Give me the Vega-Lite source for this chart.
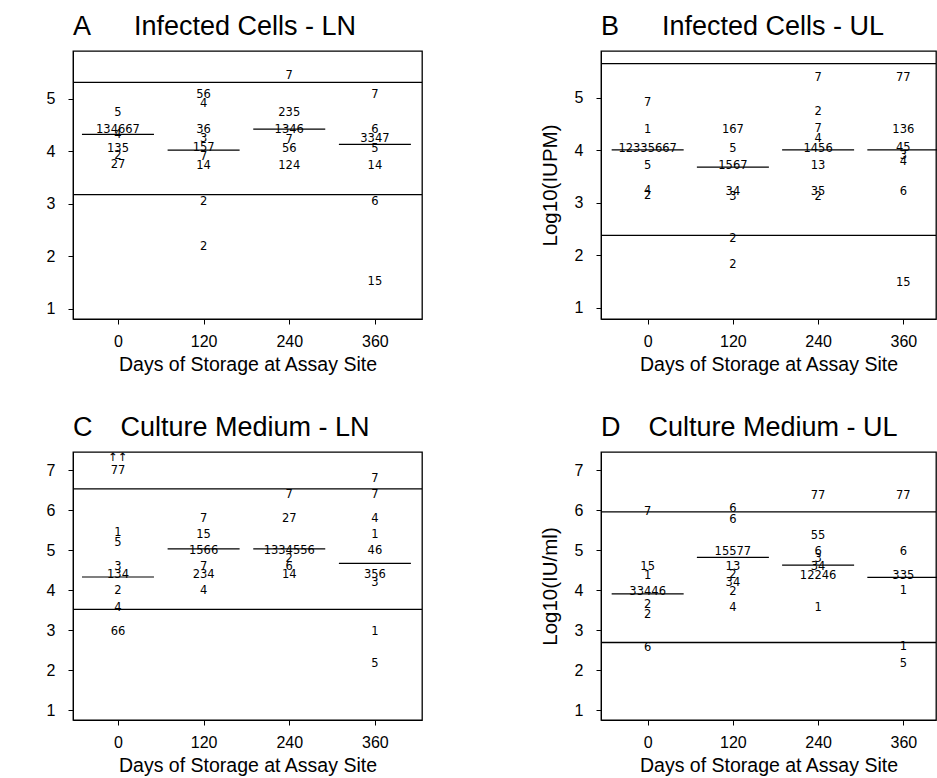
{
"$schema":"https://vega.github.io/schema/vega-lite/v6.json",
"padding":{"left":45,"top":12,"right":0,"bottom":0},
"background":"white",
"datasets":{
"pts":[
{"p":"A","day":0,"v":4.73,"label":"5"},{"p":"A","day":0,"v":4.40,"label":"134667"},{"p":"A","day":0,"v":4.30,"label":"4"},{"p":"A","day":0,"v":4.05,"label":"135"},{"p":"A","day":0,"v":3.90,"label":"2"},{"p":"A","day":0,"v":3.73,"label":"27"},
{"p":"A","day":120,"v":5.08,"label":"56"},{"p":"A","day":120,"v":4.90,"label":"4"},{"p":"A","day":120,"v":4.40,"label":"36"},{"p":"A","day":120,"v":4.24,"label":"3"},{"p":"A","day":120,"v":4.06,"label":"157"},{"p":"A","day":120,"v":3.89,"label":"7"},{"p":"A","day":120,"v":3.72,"label":"14"},{"p":"A","day":120,"v":3.03,"label":"2"},{"p":"A","day":120,"v":2.18,"label":"2"},
{"p":"A","day":240,"v":5.43,"label":"7"},{"p":"A","day":240,"v":4.73,"label":"235"},{"p":"A","day":240,"v":4.40,"label":"1346"},{"p":"A","day":240,"v":4.22,"label":"7"},{"p":"A","day":240,"v":4.05,"label":"56"},{"p":"A","day":240,"v":3.72,"label":"124"},
{"p":"A","day":360,"v":5.08,"label":"7"},{"p":"A","day":360,"v":4.40,"label":"6"},{"p":"A","day":360,"v":4.23,"label":"3347"},{"p":"A","day":360,"v":4.05,"label":"5"},{"p":"A","day":360,"v":3.72,"label":"14"},{"p":"A","day":360,"v":3.03,"label":"6"},{"p":"A","day":360,"v":1.50,"label":"15"},
{"p":"B","day":0,"v":4.90,"label":"7"},{"p":"B","day":0,"v":4.38,"label":"1"},{"p":"B","day":0,"v":4.03,"label":"12335667"},{"p":"B","day":0,"v":3.71,"label":"5"},{"p":"B","day":0,"v":3.22,"label":"4"},{"p":"B","day":0,"v":3.14,"label":"2"},
{"p":"B","day":120,"v":4.38,"label":"167"},{"p":"B","day":120,"v":4.03,"label":"5"},{"p":"B","day":120,"v":3.71,"label":"1567"},{"p":"B","day":120,"v":3.21,"label":"34"},{"p":"B","day":120,"v":3.11,"label":"3"},{"p":"B","day":120,"v":2.32,"label":"2"},{"p":"B","day":120,"v":1.81,"label":"2"},
{"p":"B","day":240,"v":5.38,"label":"7"},{"p":"B","day":240,"v":4.73,"label":"2"},{"p":"B","day":240,"v":4.41,"label":"7"},{"p":"B","day":240,"v":4.22,"label":"4"},{"p":"B","day":240,"v":4.03,"label":"1456"},{"p":"B","day":240,"v":3.71,"label":"13"},{"p":"B","day":240,"v":3.21,"label":"35"},{"p":"B","day":240,"v":3.11,"label":"2"},
{"p":"B","day":360,"v":5.38,"label":"77"},{"p":"B","day":360,"v":4.38,"label":"136"},{"p":"B","day":360,"v":4.04,"label":"45"},{"p":"B","day":360,"v":3.89,"label":"3"},{"p":"B","day":360,"v":3.78,"label":"4"},{"p":"B","day":360,"v":3.21,"label":"6"},{"p":"B","day":360,"v":1.48,"label":"15"},
{"p":"C","day":0,"v":7.30,"label":"↑↑"},{"p":"C","day":0,"v":6.97,"label":"77"},{"p":"C","day":0,"v":5.42,"label":"1"},{"p":"C","day":0,"v":5.17,"label":"5"},{"p":"C","day":0,"v":4.58,"label":"3"},{"p":"C","day":0,"v":4.38,"label":"134"},{"p":"C","day":0,"v":3.98,"label":"2"},{"p":"C","day":0,"v":3.56,"label":"4"},{"p":"C","day":0,"v":2.96,"label":"66"},
{"p":"C","day":120,"v":5.78,"label":"7"},{"p":"C","day":120,"v":5.38,"label":"15"},{"p":"C","day":120,"v":4.98,"label":"1566"},{"p":"C","day":120,"v":4.58,"label":"7"},{"p":"C","day":120,"v":4.38,"label":"234"},{"p":"C","day":120,"v":3.98,"label":"4"},
{"p":"C","day":240,"v":6.38,"label":"7"},{"p":"C","day":240,"v":5.78,"label":"27"},{"p":"C","day":240,"v":4.98,"label":"1334556"},{"p":"C","day":240,"v":4.79,"label":"2"},{"p":"C","day":240,"v":4.58,"label":"6"},{"p":"C","day":240,"v":4.38,"label":"14"},
{"p":"C","day":360,"v":6.78,"label":"7"},{"p":"C","day":360,"v":6.38,"label":"7"},{"p":"C","day":360,"v":5.78,"label":"4"},{"p":"C","day":360,"v":5.38,"label":"1"},{"p":"C","day":360,"v":4.98,"label":"46"},{"p":"C","day":360,"v":4.38,"label":"356"},{"p":"C","day":360,"v":4.17,"label":"3"},{"p":"C","day":360,"v":2.96,"label":"1"},{"p":"C","day":360,"v":2.17,"label":"5"},
{"p":"D","day":0,"v":5.96,"label":"7"},{"p":"D","day":0,"v":4.57,"label":"15"},{"p":"D","day":0,"v":4.36,"label":"1"},{"p":"D","day":0,"v":3.95,"label":"33446"},{"p":"D","day":0,"v":3.62,"label":"2"},{"p":"D","day":0,"v":3.37,"label":"2"},{"p":"D","day":0,"v":2.55,"label":"6"},
{"p":"D","day":120,"v":6.03,"label":"6"},{"p":"D","day":120,"v":5.76,"label":"6"},{"p":"D","day":120,"v":4.96,"label":"15577"},{"p":"D","day":120,"v":4.57,"label":"13"},{"p":"D","day":120,"v":4.38,"label":"2"},{"p":"D","day":120,"v":4.17,"label":"34"},{"p":"D","day":120,"v":3.95,"label":"2"},{"p":"D","day":120,"v":3.55,"label":"4"},
{"p":"D","day":240,"v":6.36,"label":"77"},{"p":"D","day":240,"v":5.36,"label":"55"},{"p":"D","day":240,"v":4.96,"label":"6"},{"p":"D","day":240,"v":4.78,"label":"3"},{"p":"D","day":240,"v":4.57,"label":"34"},{"p":"D","day":240,"v":4.35,"label":"12246"},{"p":"D","day":240,"v":3.55,"label":"1"},
{"p":"D","day":360,"v":6.36,"label":"77"},{"p":"D","day":360,"v":4.96,"label":"6"},{"p":"D","day":360,"v":4.35,"label":"335"},{"p":"D","day":360,"v":3.97,"label":"1"},{"p":"D","day":360,"v":2.58,"label":"1"},{"p":"D","day":360,"v":2.16,"label":"5"}
],
"med":[
{"p":"A","day":0,"v":4.32},{"p":"A","day":120,"v":4.02},{"p":"A","day":240,"v":4.42},{"p":"A","day":360,"v":4.13},
{"p":"B","day":0,"v":4.01},{"p":"B","day":120,"v":3.68},{"p":"B","day":240,"v":4.01},{"p":"B","day":360,"v":4.01},
{"p":"C","day":0,"v":4.33},{"p":"C","day":120,"v":5.03},{"p":"C","day":240,"v":5.03},{"p":"C","day":360,"v":4.67},
{"p":"D","day":0,"v":3.91},{"p":"D","day":120,"v":4.82},{"p":"D","day":240,"v":4.63},{"p":"D","day":360,"v":4.32}
],
"ref":[
{"p":"A","v":5.31},{"p":"A","v":3.17},
{"p":"B","v":5.65},{"p":"B","v":2.38},
{"p":"C","v":6.53},{"p":"C","v":3.52},
{"p":"D","v":5.96},{"p":"D","v":2.69}
]
},
"config":{
"font":"Liberation Sans",
"view":{"stroke":"black","strokeWidth":1.3},
"title":{"fontSize":27,"fontWeight":"normal","anchor":"start","frame":"group","offset":10,"color":"black","font":"Liberation Sans"},
"axis":{"grid":false,"domainColor":"black","tickColor":"black","labelColor":"black","titleColor":"black","titleFontWeight":"normal","labelFont":"Liberation Sans","titleFont":"Liberation Sans","tickSize":5,"labelFontSize":16},
"axisX":{"labelPadding":9,"titleFontSize":19.5,"titlePadding":6},
"axisY":{"labelPadding":13,"titleFontSize":20.5,"titlePadding":14}
},
"spacing":38,
"vconcat":[
{"spacing":115,"hconcat":[
{"title":{"text":"A\u00a0\u00a0\u00a0\u00a0\u00a0\u2009Infected Cells - LN"},"width":349,"height":268,
"layer":[
{"data":{"name":"ref"},"transform":[{"filter":"datum.p==='A'"}],"mark":{"type":"rule","color":"black","strokeWidth":1.3},
"encoding":{"y":{"field":"v","type":"quantitative","scale":{"domain":[0.8,5.91],"nice":false,"zero":false},"axis":{"values":[1,2,3,4,5],"title":null}}}},
{"data":{"name":"med"},"transform":[{"filter":"datum.p==='A'"}],"mark":{"type":"tick","orient":"horizontal","size":72,"thickness":1.2,"color":"black","opacity":1},
"encoding":{"x":{"field":"day","type":"quantitative","scale":{"domain":[-63,426],"nice":false,"zero":false},"axis":{"values":[0,120,240,360],"title":"Days of Storage at Assay Site"}},"y":{"field":"v","type":"quantitative"}}},
{"data":{"name":"pts"},"transform":[{"filter":"datum.p==='A'"}],"mark":{"type":"text","font":"DejaVu Sans","fontSize":11.5,"color":"black","align":"center","baseline":"middle"},
"encoding":{"x":{"field":"day","type":"quantitative"},"y":{"field":"v","type":"quantitative"},"text":{"field":"label"}}}
]},
{"title":{"text":"B\u00a0\u00a0\u00a0\u00a0\u00a0\u2009Infected Cells - UL"},"width":335,"height":268,
"layer":[
{"data":{"name":"ref"},"transform":[{"filter":"datum.p==='B'"}],"mark":{"type":"rule","color":"black","strokeWidth":1.3},
"encoding":{"y":{"field":"v","type":"quantitative","scale":{"domain":[0.79,5.89],"nice":false,"zero":false},"axis":{"values":[1,2,3,4,5],"title":"Log10(IUPM)"}}}},
{"data":{"name":"med"},"transform":[{"filter":"datum.p==='B'"}],"mark":{"type":"tick","orient":"horizontal","size":72,"thickness":1.2,"color":"black","opacity":1},
"encoding":{"x":{"field":"day","type":"quantitative","scale":{"domain":[-65.7,406],"nice":false,"zero":false},"axis":{"values":[0,120,240,360],"title":"Days of Storage at Assay Site"}},"y":{"field":"v","type":"quantitative"}}},
{"data":{"name":"pts"},"transform":[{"filter":"datum.p==='B'"}],"mark":{"type":"text","font":"DejaVu Sans","fontSize":11.5,"color":"black","align":"center","baseline":"middle"},
"encoding":{"x":{"field":"day","type":"quantitative"},"y":{"field":"v","type":"quantitative"},"text":{"field":"label"}}}
]}
]},
{"spacing":115,"hconcat":[
{"title":{"text":"C\u00a0\u00a0\u00a0\u2009Culture Medium - LN"},"width":349,"height":268,
"layer":[
{"data":{"name":"ref"},"transform":[{"filter":"datum.p==='C'"}],"mark":{"type":"rule","color":"black","strokeWidth":1.3},
"encoding":{"y":{"field":"v","type":"quantitative","scale":{"domain":[0.76,7.45],"nice":false,"zero":false},"axis":{"values":[1,2,3,4,5,6,7],"title":null}}}},
{"data":{"name":"med"},"transform":[{"filter":"datum.p==='C'"}],"mark":{"type":"tick","orient":"horizontal","size":72,"thickness":1.2,"color":"black","opacity":1},
"encoding":{"x":{"field":"day","type":"quantitative","scale":{"domain":[-63,426],"nice":false,"zero":false},"axis":{"values":[0,120,240,360],"title":"Days of Storage at Assay Site"}},"y":{"field":"v","type":"quantitative"}}},
{"data":{"name":"pts"},"transform":[{"filter":"datum.p==='C'"}],"mark":{"type":"text","font":"DejaVu Sans","fontSize":11.5,"color":"black","align":"center","baseline":"middle"},
"encoding":{"x":{"field":"day","type":"quantitative"},"y":{"field":"v","type":"quantitative"},"text":{"field":"label"}}}
]},
{"title":{"text":"D\u00a0\u00a0\u00a0\u2009Culture Medium - UL"},"width":335,"height":268,
"layer":[
{"data":{"name":"ref"},"transform":[{"filter":"datum.p==='D'"}],"mark":{"type":"rule","color":"black","strokeWidth":1.3},
"encoding":{"y":{"field":"v","type":"quantitative","scale":{"domain":[0.75,7.46],"nice":false,"zero":false},"axis":{"values":[1,2,3,4,5,6,7],"title":"Log10(IU/ml)"}}}},
{"data":{"name":"med"},"transform":[{"filter":"datum.p==='D'"}],"mark":{"type":"tick","orient":"horizontal","size":72,"thickness":1.2,"color":"black","opacity":1},
"encoding":{"x":{"field":"day","type":"quantitative","scale":{"domain":[-65.7,406],"nice":false,"zero":false},"axis":{"values":[0,120,240,360],"title":"Days of Storage at Assay Site"}},"y":{"field":"v","type":"quantitative"}}},
{"data":{"name":"pts"},"transform":[{"filter":"datum.p==='D'"}],"mark":{"type":"text","font":"DejaVu Sans","fontSize":11.5,"color":"black","align":"center","baseline":"middle"},
"encoding":{"x":{"field":"day","type":"quantitative"},"y":{"field":"v","type":"quantitative"},"text":{"field":"label"}}}
]}
]}
]
}
